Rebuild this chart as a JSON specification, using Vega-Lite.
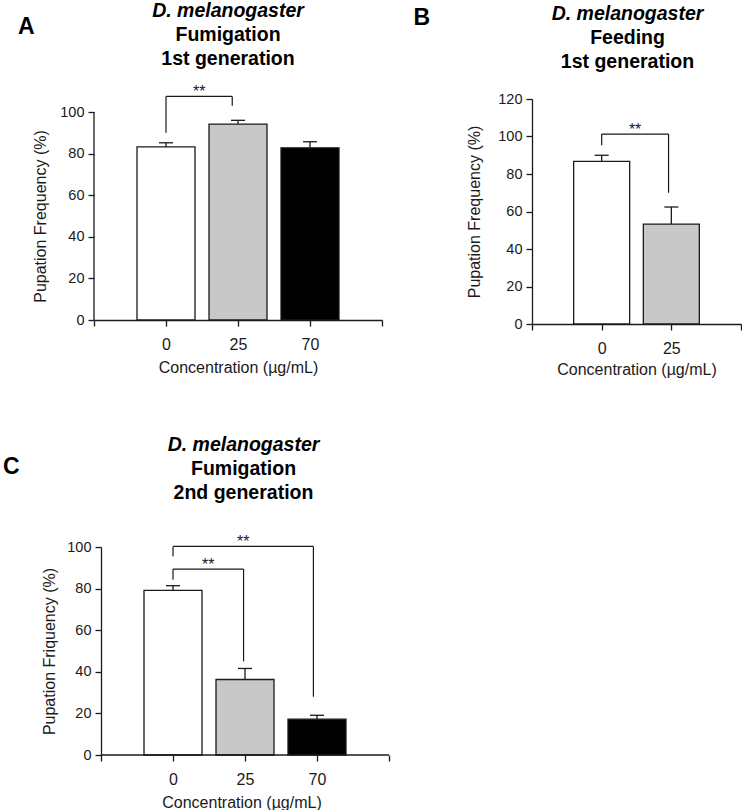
{
  "$schema": "https://vega.github.io/schema/vega-lite/v6.json",
  "padding": {"left": 2, "top": 0, "right": 0, "bottom": 0},
  "background": "white",
  "config": {
    "view": {"stroke": null},
    "font": "Liberation Sans",
    "axis": {"domainColor": "#1a1a1a", "domainWidth": 1.3, "tickColor": "#1a1a1a", "tickWidth": 1.3, "tickSize": 6, "labelFont": "Liberation Sans", "titleFont": "Liberation Sans", "labelColor": "#1a1a1a", "titleColor": "#1a1a1a", "titleFontWeight": "normal", "grid": false, "labelFontSize": 14.5, "titleFontSize": 16, "labelOverlap": false},
    "axisX": {"labelFontSize": 16, "labelPadding": 10, "titlePadding": 7, "labelAngle": 0, "labelFlush": false},
    "axisY": {"titlePadding": 11, "labelPadding": 4},
    "title": {"font": "Liberation Sans", "fontSize": 19.5, "fontWeight": "bold", "fontStyle": "italic", "color": "#000000", "subtitleFont": "Liberation Sans", "subtitleFontSize": 19.5, "subtitleFontWeight": "bold", "subtitleColor": "#000000", "subtitleLineHeight": 24, "subtitlePadding": 5, "anchor": "middle", "frame": "group"}
  },
  "datasets": {
    "bars": [
      {"panel": "A", "pos": 0, "conc": "0", "mean": 83.2, "upper": 85.2},
      {"panel": "A", "pos": 1, "conc": "25", "mean": 94.2, "upper": 96.0},
      {"panel": "A", "pos": 2, "conc": "70", "mean": 82.8, "upper": 85.7},
      {"panel": "B", "pos": 0, "conc": "0", "mean": 86.7, "upper": 90.0},
      {"panel": "B", "pos": 1, "conc": "25", "mean": 53.3, "upper": 62.4},
      {"panel": "C", "pos": 0, "conc": "0", "mean": 79.1, "upper": 81.4},
      {"panel": "C", "pos": 1, "conc": "25", "mean": 36.3, "upper": 41.6},
      {"panel": "C", "pos": 2, "conc": "70", "mean": 17.2, "upper": 19.1}
    ],
    "brackets": [
      {"panel": "A", "x1": 0, "x2": 0.92, "top": 107.5, "low1": 90, "low2": 103, "label": "**"},
      {"panel": "B", "x1": 0, "x2": 0.96, "top": 101.3, "low1": 95.3, "low2": 70, "label": "**"},
      {"panel": "C", "x1": 0, "x2": 1.95, "top": 100.3, "low1": 95.5, "low2": 28, "label": "**"},
      {"panel": "C", "x1": 0, "x2": 0.98, "top": 89.4, "low1": 84.3, "low2": 45, "label": "**"}
    ]
  },
  "columns": 2,
  "align": "none",
  "bounds": "flush",
  "spacing": {"row": 223, "column": 143},
  "concat": [
    {
      "width": 288,
      "height": 221,
      "title": {"text": "D. melanogaster", "subtitle": ["Fumigation", "1st generation"], "dx": -10, "offset": -54},
      "layer": [
        {
          "data": {"name": "bars"},
          "transform": [{"filter": "datum.panel === 'A'"}],
          "mark": {"type": "bar", "orient": "vertical", "size": 58, "stroke": "#1a1a1a", "strokeWidth": 1.3},
          "encoding": {
            "x": {"field": "pos", "type": "quantitative", "scale": {"domain": [-1, 3], "nice": false, "zero": false, "padding": 0}, "axis": {"values": [-1, 0, 1, 2, 3], "labelExpr": "datum.value === 0 ? '0' : datum.value === 1 ? '25' : datum.value === 2 ? '70' : ''", "title": "Concentration (µg/mL)"}},
            "y": {"field": "mean", "type": "quantitative", "scale": {"domain": [0, 106.25], "nice": false, "padding": 0}, "axis": {"values": [0, 20, 40, 60, 80, 100], "labelOverlap": false, "domain": false, "title": "Pupation Frequency (%)", "titleY": 117}},
            "fill": {"field": "conc", "type": "nominal", "scale": {"domain": ["0", "25", "70"], "range": ["#ffffff", "#c8c8c8", "#000000"]}, "legend": null}
          }
        },
        {
          "data": {"name": "bars"},
          "transform": [{"filter": "datum.panel === 'A'"}],
          "mark": {"type": "rule", "color": "#1a1a1a", "strokeWidth": 1.3},
          "encoding": {"x": {"field": "pos", "type": "quantitative"}, "y": {"field": "mean", "type": "quantitative"}, "y2": {"field": "upper"}}
        },
        {
          "data": {"name": "bars"},
          "transform": [{"filter": "datum.panel === 'A'"}],
          "mark": {"type": "tick", "orient": "horizontal", "size": 14, "thickness": 1.3, "color": "#1a1a1a", "opacity": 1},
          "encoding": {"x": {"field": "pos", "type": "quantitative"}, "y": {"field": "upper", "type": "quantitative"}}
        },
        {
          "data": {"values": [{}]},
          "mark": {"type": "rule", "color": "#1a1a1a", "strokeWidth": 1.3},
          "encoding": {"x": {"datum": -1}, "y": {"datum": 0}, "y2": {"datum": 100}}
        },
        {
          "data": {"name": "brackets"},
          "transform": [{"filter": "datum.panel === 'A'"}],
          "mark": {"type": "rule", "color": "#1a1a1a", "strokeWidth": 1.2},
          "encoding": {"x": {"field": "x1", "type": "quantitative"}, "y": {"field": "low1", "type": "quantitative"}, "y2": {"field": "top"}}
        },
        {
          "data": {"name": "brackets"},
          "transform": [{"filter": "datum.panel === 'A'"}],
          "mark": {"type": "rule", "color": "#1a1a1a", "strokeWidth": 1.2},
          "encoding": {"x": {"field": "x1", "type": "quantitative"}, "x2": {"field": "x2"}, "y": {"field": "top", "type": "quantitative"}}
        },
        {
          "data": {"name": "brackets"},
          "transform": [{"filter": "datum.panel === 'A'"}],
          "mark": {"type": "rule", "color": "#1a1a1a", "strokeWidth": 1.2},
          "encoding": {"x": {"field": "x2", "type": "quantitative"}, "y": {"field": "low2", "type": "quantitative"}, "y2": {"field": "top"}}
        },
        {
          "data": {"name": "brackets"},
          "transform": [{"filter": "datum.panel === 'A'"}, {"calculate": "(datum.x1 + datum.x2) / 2", "as": "mid"}],
          "mark": {"type": "text", "fontSize": 16, "baseline": "alphabetic", "align": "center", "dy": 1, "color": "#1a1a1a"},
          "encoding": {"x": {"field": "mid", "type": "quantitative"}, "y": {"field": "top", "type": "quantitative"}, "text": {"field": "label"}}
        },
        {
          "data": {"values": [{}]},
          "mark": {"type": "text", "text": "A", "fontSize": 23, "fontWeight": "bold", "align": "center", "baseline": "middle", "color": "#000000"},
          "encoding": {"x": {"datum": -1.94}, "y": {"datum": 140.9}}
        }
      ]
    },
    {
      "width": 209,
      "height": 225,
      "title": {"text": "D. melanogaster", "subtitle": ["Feeding", "1st generation"], "dx": -9, "offset": -66},
      "layer": [
        {
          "data": {"name": "bars"},
          "transform": [{"filter": "datum.panel === 'B'"}],
          "mark": {"type": "bar", "orient": "vertical", "size": 56, "stroke": "#1a1a1a", "strokeWidth": 1.3},
          "encoding": {
            "x": {"field": "pos", "type": "quantitative", "scale": {"domain": [-1, 2], "nice": false, "zero": false, "padding": 0}, "axis": {"values": [-1, 0, 1, 2], "labelExpr": "datum.value === 0 ? '0' : datum.value === 1 ? '25' : ''", "title": "Concentration (µg/mL)", "titlePadding": 5}},
            "y": {"field": "mean", "type": "quantitative", "scale": {"domain": [0, 120], "nice": false, "padding": 0}, "axis": {"values": [0, 20, 40, 60, 80, 100, 120], "tickCount": 7, "labelOverlap": false, "title": "Pupation Frequency (%)", "titlePadding": 15}},
            "fill": {"field": "conc", "type": "nominal", "scale": {"domain": ["0", "25", "70"], "range": ["#ffffff", "#c8c8c8", "#000000"]}, "legend": null}
          }
        },
        {
          "data": {"name": "bars"},
          "transform": [{"filter": "datum.panel === 'B'"}],
          "mark": {"type": "rule", "color": "#1a1a1a", "strokeWidth": 1.3},
          "encoding": {"x": {"field": "pos", "type": "quantitative"}, "y": {"field": "mean", "type": "quantitative"}, "y2": {"field": "upper"}}
        },
        {
          "data": {"name": "bars"},
          "transform": [{"filter": "datum.panel === 'B'"}],
          "mark": {"type": "tick", "orient": "horizontal", "size": 14, "thickness": 1.3, "color": "#1a1a1a", "opacity": 1},
          "encoding": {"x": {"field": "pos", "type": "quantitative"}, "y": {"field": "upper", "type": "quantitative"}}
        },
        {
          "data": {"name": "brackets"},
          "transform": [{"filter": "datum.panel === 'B'"}],
          "mark": {"type": "rule", "color": "#1a1a1a", "strokeWidth": 1.2},
          "encoding": {"x": {"field": "x1", "type": "quantitative"}, "y": {"field": "low1", "type": "quantitative"}, "y2": {"field": "top"}}
        },
        {
          "data": {"name": "brackets"},
          "transform": [{"filter": "datum.panel === 'B'"}],
          "mark": {"type": "rule", "color": "#1a1a1a", "strokeWidth": 1.2},
          "encoding": {"x": {"field": "x1", "type": "quantitative"}, "x2": {"field": "x2"}, "y": {"field": "top", "type": "quantitative"}}
        },
        {
          "data": {"name": "brackets"},
          "transform": [{"filter": "datum.panel === 'B'"}],
          "mark": {"type": "rule", "color": "#1a1a1a", "strokeWidth": 1.2},
          "encoding": {"x": {"field": "x2", "type": "quantitative"}, "y": {"field": "low2", "type": "quantitative"}, "y2": {"field": "top"}}
        },
        {
          "data": {"name": "brackets"},
          "transform": [{"filter": "datum.panel === 'B'"}, {"calculate": "(datum.x1 + datum.x2) / 2", "as": "mid"}],
          "mark": {"type": "text", "fontSize": 16, "baseline": "alphabetic", "align": "center", "dy": 1, "color": "#1a1a1a"},
          "encoding": {"x": {"field": "mid", "type": "quantitative"}, "y": {"field": "top", "type": "quantitative"}, "text": {"field": "label"}}
        },
        {
          "data": {"values": [{}]},
          "mark": {"type": "text", "text": "B", "fontSize": 23, "fontWeight": "bold", "align": "center", "baseline": "middle", "color": "#000000"},
          "encoding": {"x": {"datum": -2.58}, "y": {"datum": 163.4}}
        }
      ]
    },
    {
      "width": 295,
      "height": 208,
      "title": {"text": "D. melanogaster", "subtitle": ["Fumigation", "2nd generation"], "dx": 2, "offset": -48},
      "layer": [
        {
          "data": {"name": "bars"},
          "transform": [{"filter": "datum.panel === 'C'"}],
          "mark": {"type": "bar", "orient": "vertical", "size": 58, "stroke": "#1a1a1a", "strokeWidth": 1.3},
          "encoding": {
            "x": {"field": "pos", "type": "quantitative", "scale": {"domain": [-1.0972, 3], "nice": false, "zero": false, "padding": 0}, "axis": {"values": [-1, 0, 1, 2, 3], "domain": false, "labelExpr": "datum.value === 0 ? '0' : datum.value === 1 ? '25' : datum.value === 2 ? '70' : ''", "title": "Concentration (µg/mL)"}},
            "y": {"field": "mean", "type": "quantitative", "scale": {"domain": [0, 100], "nice": false, "padding": 0}, "axis": {"values": [0, 20, 40, 60, 80, 100], "labelOverlap": false, "offset": -7, "title": "Pupation Friquency (%)", "titlePadding": 9}},
            "fill": {"field": "conc", "type": "nominal", "scale": {"domain": ["0", "25", "70"], "range": ["#ffffff", "#c8c8c8", "#000000"]}, "legend": null}
          }
        },
        {
          "data": {"values": [{}]},
          "mark": {"type": "rule", "color": "#1a1a1a", "strokeWidth": 1.3},
          "encoding": {"x": {"datum": -1}, "x2": {"datum": 3}, "y": {"datum": 0}}
        },
        {
          "data": {"name": "bars"},
          "transform": [{"filter": "datum.panel === 'C'"}],
          "mark": {"type": "rule", "color": "#1a1a1a", "strokeWidth": 1.3},
          "encoding": {"x": {"field": "pos", "type": "quantitative"}, "y": {"field": "mean", "type": "quantitative"}, "y2": {"field": "upper"}}
        },
        {
          "data": {"name": "bars"},
          "transform": [{"filter": "datum.panel === 'C'"}],
          "mark": {"type": "tick", "orient": "horizontal", "size": 14, "thickness": 1.3, "color": "#1a1a1a", "opacity": 1},
          "encoding": {"x": {"field": "pos", "type": "quantitative"}, "y": {"field": "upper", "type": "quantitative"}}
        },
        {
          "data": {"name": "brackets"},
          "transform": [{"filter": "datum.panel === 'C'"}],
          "mark": {"type": "rule", "color": "#1a1a1a", "strokeWidth": 1.2},
          "encoding": {"x": {"field": "x1", "type": "quantitative"}, "y": {"field": "low1", "type": "quantitative"}, "y2": {"field": "top"}}
        },
        {
          "data": {"name": "brackets"},
          "transform": [{"filter": "datum.panel === 'C'"}],
          "mark": {"type": "rule", "color": "#1a1a1a", "strokeWidth": 1.2},
          "encoding": {"x": {"field": "x1", "type": "quantitative"}, "x2": {"field": "x2"}, "y": {"field": "top", "type": "quantitative"}}
        },
        {
          "data": {"name": "brackets"},
          "transform": [{"filter": "datum.panel === 'C'"}],
          "mark": {"type": "rule", "color": "#1a1a1a", "strokeWidth": 1.2},
          "encoding": {"x": {"field": "x2", "type": "quantitative"}, "y": {"field": "low2", "type": "quantitative"}, "y2": {"field": "top"}}
        },
        {
          "data": {"name": "brackets"},
          "transform": [{"filter": "datum.panel === 'C'"}, {"calculate": "(datum.x1 + datum.x2) / 2", "as": "mid"}],
          "mark": {"type": "text", "fontSize": 16, "baseline": "alphabetic", "align": "center", "dy": 1, "color": "#1a1a1a"},
          "encoding": {"x": {"field": "mid", "type": "quantitative"}, "y": {"field": "top", "type": "quantitative"}, "text": {"field": "label"}}
        },
        {
          "data": {"values": [{}]},
          "mark": {"type": "text", "text": "C", "fontSize": 23, "fontWeight": "bold", "align": "center", "baseline": "middle", "color": "#000000"},
          "encoding": {"x": {"datum": -2.247}, "y": {"datum": 138.7}}
        }
      ]
    }
  ]
}
